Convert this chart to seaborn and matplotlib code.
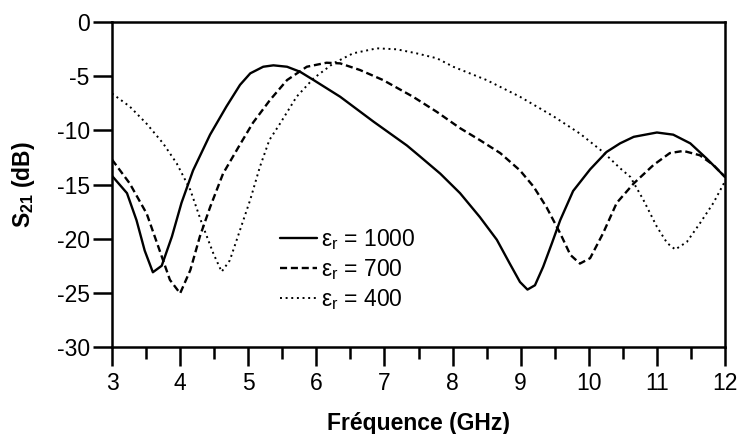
import numpy as np
import pandas as pd
import matplotlib
matplotlib.use("Agg")
import matplotlib.pyplot as plt
import seaborn as sns

# ---- data ----
freq_1000 = [3.0, 3.22, 3.36, 3.48, 3.60, 3.73, 3.88, 4.02, 4.19, 4.44, 4.68, 4.88, 5.03, 5.22,
             5.37, 5.57, 5.76, 5.96, 6.35, 6.84, 7.33, 7.52, 7.82, 8.11, 8.40, 8.65, 8.84,
             8.99, 9.10, 9.21, 9.33, 9.46, 9.58, 9.77, 10.02, 10.26, 10.46, 10.66, 11.00,
             11.24, 11.49, 11.73, 12.0]
s21_1000 = [-14.2, -15.8, -18.3, -21.1, -23.1, -22.5, -19.8, -16.7, -13.7, -10.4, -7.8, -5.8, -4.74,
            -4.13, -4.0, -4.13, -4.59, -5.36, -6.9, -9.2, -11.4, -12.4, -14.0, -15.8, -18.0, -20.1,
            -22.3, -24.0, -24.7, -24.3, -22.6, -20.4, -18.3, -15.6, -13.6, -12.0, -11.2, -10.6,
            -10.2, -10.4, -11.2, -12.6, -14.3]

freq_700 = [3.0, 3.26, 3.51, 3.70, 3.85, 4.0, 4.15, 4.29, 4.44, 4.63, 4.88, 5.07, 5.32, 5.57,
            5.86, 6.15, 6.35, 6.64, 6.98, 7.42, 7.77, 8.11, 8.40, 8.70, 8.99, 9.19, 9.38, 9.58,
            9.73, 9.87, 10.02, 10.21, 10.41, 10.66, 10.95, 11.19, 11.39, 11.63, 11.83, 12.0]
s21_700 = [-12.7, -14.9, -17.7, -21.1, -23.8, -25.05, -22.9, -19.8, -17.1, -14.0, -11.3, -9.3, -7.2,
           -5.36, -4.13, -3.76, -3.82, -4.43, -5.36, -6.9, -8.3, -9.8, -10.9, -12.1, -13.7, -15.2,
           -17.1, -19.5, -21.5, -22.3, -21.8, -19.5, -16.7, -14.9, -13.2, -12.1, -11.9, -12.3,
           -13.2, -14.3]

freq_400 = [3.0, 3.26, 3.51, 3.75, 3.95, 4.15, 4.32, 4.49, 4.61, 4.73, 4.88, 5.03, 5.17, 5.31,
            5.47, 5.71, 5.96, 6.25, 6.54, 6.89, 7.18, 7.47, 7.77, 8.01, 8.50, 8.99, 9.48, 9.87,
            10.21, 10.46, 10.61, 10.80, 11.00, 11.15, 11.27, 11.44, 11.63, 11.83, 12.0]
s21_400 = [-6.6, -7.8, -9.4, -11.2, -13.05, -15.5, -18.6, -21.4, -23.05, -22.0, -19.2, -16.4, -13.4,
           -10.9, -9.35, -6.9, -5.2, -3.82, -2.89, -2.43, -2.52, -2.89, -3.35, -4.13, -5.36, -6.9,
           -8.7, -10.3, -12.0, -13.5, -14.3, -16.4, -18.9, -20.4, -21.0, -20.3, -18.6, -16.7, -14.7]

labels = [r"$\mathregular{\varepsilon_r}$ = 1000", r"$\mathregular{\varepsilon_r}$ = 700",
          r"$\mathregular{\varepsilon_r}$ = 400"]
x_ticks = [3, 4, 5, 6, 7, 8, 9, 10, 11, 12]
y_ticks = [0, -5, -10, -15, -20, -25, -30]

sns.set_theme(style="white")
plt.rcParams["font.family"] = ["Liberation Sans", "DejaVu Sans"]
plt.rcParams["mathtext.fontset"] = "custom"
plt.rcParams["mathtext.rm"] = "Liberation Sans"
plt.rcParams["mathtext.it"] = "Liberation Sans:italic"
plt.rcParams["mathtext.bf"] = "Liberation Sans:bold"
plt.rcParams["text.color"] = "black"
plt.rcParams["axes.labelcolor"] = "black"

fig = plt.figure(figsize=(7.38, 4.34), dpi=100)
ax = fig.add_axes([112 / 738, 1 - 347 / 434, (725 - 112) / 738, (347 - 22) / 434])

series = [
    (freq_1000, s21_1000, "-", 1.7),
    (freq_700, s21_700, (0, (3.0, 1.6)), 1.7),
    (freq_400, s21_400, (0, (1.0, 1.9)), 1.4),
]
for (fx, fy, ls, lw), lab in zip(series, labels):
    df = pd.DataFrame({"f": fx, "s": fy})
    sns.lineplot(data=df, x="f", y="s", ax=ax, color="black", linestyle=ls,
                 linewidth=lw, label=lab, sort=True)

ax.set_xlim(3, 12)
ax.set_ylim(-30, 0)
ax.set_xticks(x_ticks)
ax.set_xticks(np.arange(3.5, 12, 1.0), minor=True)
ax.set_yticks(y_ticks)
ax.set_xticklabels([str(t) for t in x_ticks])
ax.set_yticklabels([str(t) for t in y_ticks])

for sp in ax.spines.values():
    sp.set_visible(True)
    sp.set_color("black")
    sp.set_linewidth(1.8)

ax.tick_params(axis="both", which="major", direction="out", length=14, width=1.8,
               color="black", labelsize=16.5, labelcolor="black")
ax.tick_params(axis="x", which="major", pad=4)
ax.tick_params(axis="y", which="major", pad=2)
ax.tick_params(axis="x", which="minor", direction="out", length=8.5, width=1.8,
               color="black", bottom=True)
ax.tick_params(axis="x", which="both", bottom=True, top=False)
ax.tick_params(axis="y", which="both", left=True, right=False)

ax.set_xlabel("Fréquence (GHz)", fontsize=16.5, fontweight="bold", color="black")
ax.set_ylabel(r"S$_\mathregular{21}$ (dB)", fontsize=16.5, fontweight="bold", color="black")
ax.xaxis.set_label_coords(0.5, -0.2554)
ax.xaxis.label.set_verticalalignment("baseline")
ax.yaxis.set_label_coords(-0.122, 0.5)

leg = ax.legend(loc="upper left", bbox_to_anchor=(5.47, -18.9), bbox_transform=ax.transData,
                frameon=False, fontsize=16.5, handlelength=1.6, handletextpad=0.2,
                labelspacing=0.22, borderpad=0, borderaxespad=0)
for t in leg.get_texts():
    t.set_color("black")

ax.grid(False)
fig.savefig("out.png", dpi=100)
